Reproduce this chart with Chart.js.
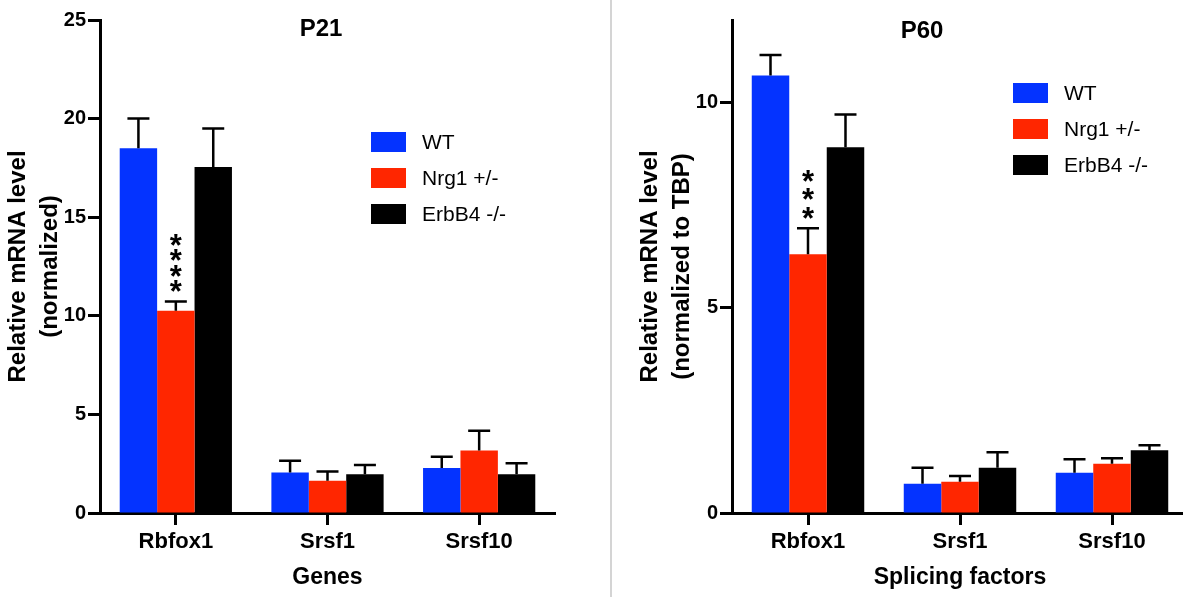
<!DOCTYPE html>
<html>
<head>
<meta charset="utf-8">
<script src="https://cdn.jsdelivr.net/npm/chart.js@4.4.1/dist/chart.umd.min.js"></script>
<style>
  html, body { margin: 0; padding: 0; background: #fff; overflow: hidden; }
  #wrap { position: relative; width: 1183px; height: 597px; overflow: hidden; }
  .panel { position: absolute; top: 0; height: 597px; }
  #left { left: 0; width: 610px; }
  #right { left: 612px; width: 600px; }
  #divider { position: absolute; left: 610px; top: 0; width: 2px; height: 597px; background: #d4d4d4; }
</style>
</head>
<body>
<div id="wrap">
  <div class="panel" id="left"><canvas id="p21" width="610" height="597"></canvas></div>
  <div id="divider"></div>
  <div class="panel" id="right"><canvas id="p60" width="600" height="597"></canvas></div>
</div>
<script>
const categories = ["Rbfox1", "Srsf1", "Srsf10"]
const seriesLabels = ["WT", "Nrg1 +/-", "ErbB4 -/-"]
const seriesColors = ["#0433ff", "#ff2600", "#000000"]

// P21 (mean, SEM)
const p21WT = [18.5, 2.05, 2.28]
const p21WTErr = [1.5, 0.6, 0.57]
const p21Nrg1 = [10.25, 1.63, 3.17]
const p21Nrg1Err = [0.48, 0.48, 1.0]
const p21ErbB4 = [17.55, 1.96, 1.96]
const p21ErbB4Err = [1.95, 0.48, 0.56]
const p21Stars = ["****", "", ""]
const p21Ticks = [0, 5, 10, 15, 20, 25]

// P60 (mean, SEM)
const p60WT = [10.65, 0.71, 0.98]
const p60WTErr = [0.5, 0.39, 0.33]
const p60Nrg1 = [6.3, 0.76, 1.2]
const p60Nrg1Err = [0.63, 0.14, 0.13]
const p60ErbB4 = [8.9, 1.1, 1.53]
const p60ErbB4Err = [0.8, 0.38, 0.12]
const p60Stars = ["***", "", ""]
const p60Ticks = [0, 5, 10]

const FONT = "'Liberation Sans', Arial, Helvetica, sans-serif"

// error bars (upper only) + significance stars
const errorBars = {
  id: "errorBars",
  afterDatasetsDraw(chart) {
    const ctx = chart.ctx
    const y = chart.scales.y
    chart.data.datasets.forEach((ds, i) => {
      const meta = chart.getDatasetMeta(i)
      meta.data.forEach((bar, j) => {
        const top = y.getPixelForValue(ds.data[j] + ds.errors[j])
        ctx.save()
        ctx.strokeStyle = "#000"
        ctx.lineWidth = 2.5
        ctx.beginPath()
        ctx.moveTo(bar.x, bar.y)
        ctx.lineTo(bar.x, top)
        ctx.moveTo(bar.x - 11, top)
        ctx.lineTo(bar.x + 11, top)
        ctx.stroke()
        const stars = ds.stars ? ds.stars[j] : ""
        if (stars) {
          const o = chart.options.plugins.errorBars
          ctx.fillStyle = "#000"
          ctx.font = "bold 31px " + FONT
          ctx.textAlign = "center"
          ctx.textBaseline = "middle"
          for (let k = 0; k < stars.length; k++) {
            ctx.fillText("*", bar.x, top - o.starGap - k * o.starStep + 6)
          }
        }
        ctx.restore()
      })
    })
  }
}

const boxLegend = {
  id: "boxLegend",
  afterDraw(chart) {
    const o = chart.options.plugins.boxLegend
    const ctx = chart.ctx
    ctx.save()
    chart.data.datasets.forEach((ds, i) => {
      const y = o.y + i * o.step
      ctx.fillStyle = ds.backgroundColor
      ctx.fillRect(o.x, y, 35, 20)
      ctx.fillStyle = "#000"
      ctx.font = "21px " + FONT
      ctx.textAlign = "left"
      ctx.textBaseline = "middle"
      ctx.fillText(ds.label, o.x + 51, y + 11)
    })
    ctx.restore()
  }
}

const panelTitle = {
  id: "panelTitle",
  afterDraw(chart) {
    const o = chart.options.plugins.panelTitle
    const ctx = chart.ctx
    ctx.save()
    ctx.fillStyle = "#000"
    ctx.font = "bold 24px " + FONT
    ctx.textAlign = "center"
    ctx.textBaseline = "middle"
    ctx.fillText(o.text, o.x, o.y)
    ctx.restore()
  }
}

function makeDatasets(values, errors, stars) {
  return values.map((data, i) => ({
    label: seriesLabels[i],
    data: data,
    errors: errors[i],
    stars: stars[i],
    backgroundColor: seriesColors[i],
    borderWidth: 0,
    categoryPercentage: 0.74,
    barPercentage: 1.0
  }))
}

function makeChart(id, cfg) {
  return new Chart(document.getElementById(id), {
    type: "bar",
    data: {
      labels: categories,
      datasets: makeDatasets(cfg.values, cfg.errors, cfg.stars)
    },
    plugins: [errorBars, boxLegend, panelTitle],
    options: {
      responsive: false,
      animation: false,
      devicePixelRatio: 1,
      layout: { padding: { left: 0, top: 20, right: cfg.padRight, bottom: 0 } },
      plugins: {
        legend: { display: false },
        tooltip: { enabled: false },
        errorBars: { starGap: 14, starStep: 15.3 * cfg.starScale },
        boxLegend: cfg.legend,
        panelTitle: cfg.title
      },
      scales: {
        x: {
          offset: true,
          grid: { offset: false, drawOnChartArea: false, drawTicks: true, tickLength: 12, tickWidth: 3, tickColor: "#000" },
          border: { display: true, width: 3, color: "#000" },
          ticks: { color: "#000", font: { family: FONT, size: 22, weight: "bold" }, padding: 4 },
          title: {
            display: true, text: cfg.xTitle, color: "#000",
            font: { family: FONT, size: 23, weight: "bold" },
            padding: { top: 0, bottom: 6 }
          },
          afterFit: s => { s.height = 84 }
        },
        y: {
          min: 0, max: cfg.yMax,
          afterBuildTicks: s => { s.ticks = cfg.ticks.map(v => ({ value: v })) },
          grid: { drawOnChartArea: false, drawTicks: true, tickLength: 12, tickWidth: 3, tickColor: "#000" },
          border: { display: true, width: 3, color: "#000" },
          ticks: { color: "#000", font: { family: FONT, size: 20, weight: "bold" }, padding: 2 },
          title: {
            display: true, text: cfg.yTitle, color: "#000",
            font: { family: FONT, size: 24, weight: "bold", lineHeight: 1.34 },
            padding: { top: cfg.yTitlePad, bottom: 0 }
          },
          afterFit: s => { s.width = cfg.yWidth }
        }
      }
    }
  })
}

makeChart("p21", {
  values: [p21WT, p21Nrg1, p21ErbB4],
  errors: [p21WTErr, p21Nrg1Err, p21ErbB4Err],
  stars: [[], p21Stars, []],
  starScale: 1,
  ticks: p21Ticks,
  yMax: 25,
  padRight: 55,
  yWidth: 100,
  yTitlePad: 2,
  yTitle: ["Relative mRNA level", "(normalized)"],
  xTitle: "Genes",
  legend: { x: 371, y: 132, step: 36 },
  title: { text: "P21", x: 321, y: 29 }
})

makeChart("p60", {
  values: [p60WT, p60Nrg1, p60ErbB4],
  errors: [p60WTErr, p60Nrg1Err, p60ErbB4Err],
  stars: [[], p60Stars, []],
  starScale: 1.2,
  ticks: p60Ticks,
  yMax: 12,
  padRight: 24,
  yWidth: 120,
  yTitlePad: 22,
  yTitle: ["Relative mRNA level", "(normalized to TBP)"],
  xTitle: "Splicing factors",
  legend: { x: 401, y: 83, step: 36 },
  title: { text: "P60", x: 310, y: 31 }
})
</script>
</body>
</html>
